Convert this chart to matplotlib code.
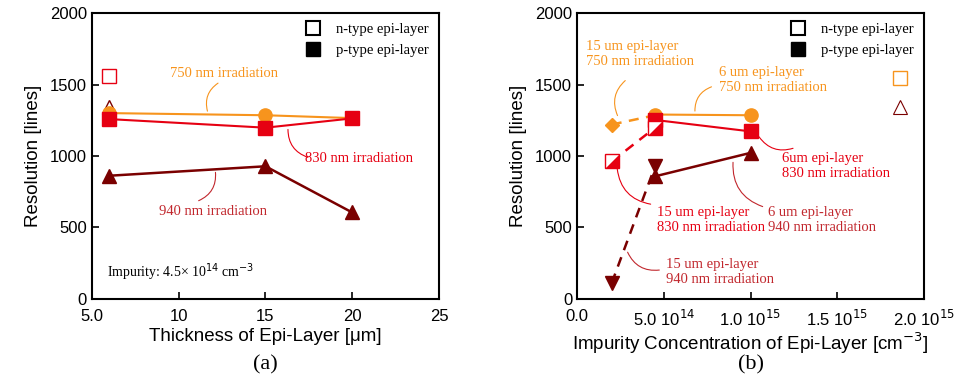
import numpy as np
import matplotlib
matplotlib.use('Agg')
import matplotlib.pyplot as plt
from matplotlib.lines import Line2D

# colours
c750 = '#f7941d'
c830 = '#e60012'
c940 = '#7a0000'
ctxt940 = '#c1272d'

# ---- panel (a) data: resolution vs epi-layer thickness ----
thickness = [6, 15, 20]
res_750 = [1300, 1285, 1265]
res_830 = [1258, 1198, 1263]
res_940 = [862, 928, 605]
ntype_thick = [6]
ntype_sq_a = [1560]
ntype_tri_a = [1345]

# ---- panel (b) data: resolution vs impurity concentration ----
conc_6um = [4.5e14, 1.0e15]
res6_750 = [1290, 1285]
res6_830 = [1252, 1172]
res6_940 = [858, 1022]
conc_15um = [2.0e14, 4.5e14]
res15_750 = [1220, 1285]
res15_830 = [962, 1198]
res15_940 = [112, 930]
ntype_conc = [1.86e15]
ntype_sq_b = [1545]
ntype_tri_b = [1340]

xticks_b = [0, 5e14, 1e15, 1.5e15, 2e15]
xticklabels_b = ['0.0', '5.0 10$^{14}$', '1.0 10$^{15}$', '1.5 10$^{15}$', '2.0 10$^{15}$']

plt.rcParams['font.family'] = ['Liberation Sans', 'DejaVu Sans']
serif = ['Liberation Serif', 'DejaVu Serif']

fig = plt.figure(figsize=(9.56, 3.87), dpi=100)
axa = fig.add_axes([0.0962, 0.2274, 0.3630, 0.7390])
axb = fig.add_axes([0.6036, 0.2274, 0.3630, 0.7390])

ms = 9.5
lower_right = [(-1, -1), (1, -1), (1, 1), (-1, -1)]


def style(ax):
    ax.set_ylim(0, 2000)
    ax.set_yticks([0, 500, 1000, 1500, 2000])
    ax.tick_params(direction='in', length=5, width=1.2, labelsize=12)
    ax.tick_params(axis='x', pad=7)
    for s in ax.spines.values():
        s.set_linewidth(1.5)
    ax.set_ylabel('Resolution [lines]', fontsize=13.5, labelpad=6)
    leg = [Line2D([], [], ls='', marker='s', ms=ms + 1, mfc='white', mec='black', mew=1.5),
           Line2D([], [], ls='', marker='s', ms=ms + 1, mfc='black', mec='black')]
    ax.legend(leg, ['n-type epi-layer', 'p-type epi-layer'], loc='upper right',
              frameon=False, prop={'family': serif, 'size': 10.5}, handletextpad=0.6,
              borderaxespad=0.3, labelspacing=0.5)


def leader(ax, p0, p1, color, rad):
    ax.annotate('', xy=p1, xytext=p0,
                arrowprops=dict(arrowstyle='-', color=color, lw=0.8,
                                connectionstyle='arc3,rad=%s' % rad))


# ---------------- panel (a) ----------------
axa.plot(thickness, res_750, '-o', color=c750, ms=ms, lw=1.5)
axa.plot(thickness, res_830, '-s', color=c830, ms=ms, lw=1.5)
axa.plot(thickness, res_940, '-^', color=c940, ms=ms, lw=1.8)
axa.plot(ntype_thick, ntype_sq_a, 's', ms=ms, mfc='white', mec=c830, mew=1.0)
axa.plot(ntype_thick, ntype_tri_a, '^', ms=ms, mfc='none', mec=c940, mew=1.0, zorder=1)
axa.set_xlim(5, 25)
axa.set_xticks([5, 10, 15, 20, 25])
axa.set_xticklabels(['5.0', '10', '15', '20', '25'])
axa.set_xlabel('Thickness of Epi-Layer [\u03bcm]', fontsize=13.5, labelpad=3)
style(axa)

axa.text(12.6, 1580, '750 nm irradiation', color=c750, ha='center', va='center',
         family=serif, fontsize=10.5)
leader(axa, (12.4, 1520), (11.7, 1295), c750, 0.4)
axa.text(20.4, 980, '830 nm irradiation', color=c830, ha='center', va='center',
         family=serif, fontsize=10.5)
leader(axa, (16.3, 1205), (17.6, 985), c830, 0.4)
axa.text(12.0, 610, '940 nm irradiation', color=ctxt940, ha='center', va='center',
         family=serif, fontsize=10.5)
leader(axa, (11.0, 680), (12.1, 905), ctxt940, 0.4)
axa.text(5.85, 190, 'Impurity: 4.5\u00d7 10$^{14}$ cm$^{-3}$', color='black',
         ha='left', va='center', family=serif, fontsize=10)

fig.text(0.2777, 0.057, '(a)', ha='center', va='center', family=serif, fontsize=16)

# ---------------- panel (b) ----------------
axb.plot(conc_6um, res6_750, '-o', color=c750, ms=ms, lw=1.5, zorder=3)
axb.plot(conc_15um, res15_750, '--', color=c750, lw=1.8, dashes=(4, 3), zorder=2)
axb.plot(conc_15um[:1], res15_750[:1], 'D', color=c750, ms=ms * 0.8, zorder=3)

axb.plot(conc_6um, res6_830, '-s', color=c830, ms=ms, lw=1.5, zorder=3)
axb.plot(conc_15um, res15_830, '--', color=c830, lw=1.8, dashes=(4, 3), zorder=2)
axb.plot(conc_15um, res15_830, 's', ms=ms, mfc='white', mec=c830, mew=1.0, zorder=4)
axb.plot(conc_15um, res15_830, ls='', marker=lower_right, ms=ms, color=c830, mew=0, zorder=5)

axb.plot(conc_6um, res6_940, '-^', color=c940, ms=ms, lw=1.8, zorder=3)
axb.plot(conc_15um, res15_940, '--v', color=c940, ms=ms, lw=1.8, dashes=(4, 3), zorder=3)

axb.plot(ntype_conc, ntype_sq_b, 's', ms=ms, mfc='white', mec=c750, mew=1.0)
axb.plot(ntype_conc, ntype_tri_b, '^', ms=ms, mfc='white', mec=c940, mew=0.8)

axb.set_xlim(0, 2e15)
axb.set_xticks(xticks_b)
axb.set_xticklabels(xticklabels_b)
axb.set_xlabel('Impurity Concentration of Epi-Layer [cm$^{-3}$]', fontsize=13.5, labelpad=1)
style(axb)

kw = dict(family=serif, fontsize=10.5, ha='left', va='center', linespacing=1.2)
axb.text(0.05e15, 1710, '15 um epi-layer\n750 nm irradiation', color=c750, **kw)
leader(axb, (0.29e15, 1540), (0.24e15, 1265), c750, 0.4)
axb.text(0.82e15, 1530, '6 um epi-layer\n750 nm irradiation', color=c750, **kw)
leader(axb, (0.79e15, 1490), (0.68e15, 1295), c750, 0.4)
axb.text(1.18e15, 930, '6um epi-layer\n830 nm irradiation', color=c830, **kw)
leader(axb, (1.04e15, 1150), (1.26e15, 1060), c830, 0.4)
axb.text(0.46e15, 555, '15 um epi-layer\n830 nm irradiation', color=c830, **kw)
leader(axb, (0.23e15, 930), (0.44e15, 660), c830, 0.4)
axb.text(1.10e15, 555, '6 um epi-layer\n940 nm irradiation', color=ctxt940, **kw)
leader(axb, (0.90e15, 975), (1.085e15, 640), ctxt940, 0.4)
axb.text(0.51e15, 187, '15 um epi-layer\n940 nm irradiation', color=ctxt940, **kw)
leader(axb, (0.285e15, 345), (0.49e15, 205), ctxt940, 0.4)

fig.text(0.7851, 0.057, '(b)', ha='center', va='center', family=serif, fontsize=16)

fig.savefig('out.png', dpi=100)
